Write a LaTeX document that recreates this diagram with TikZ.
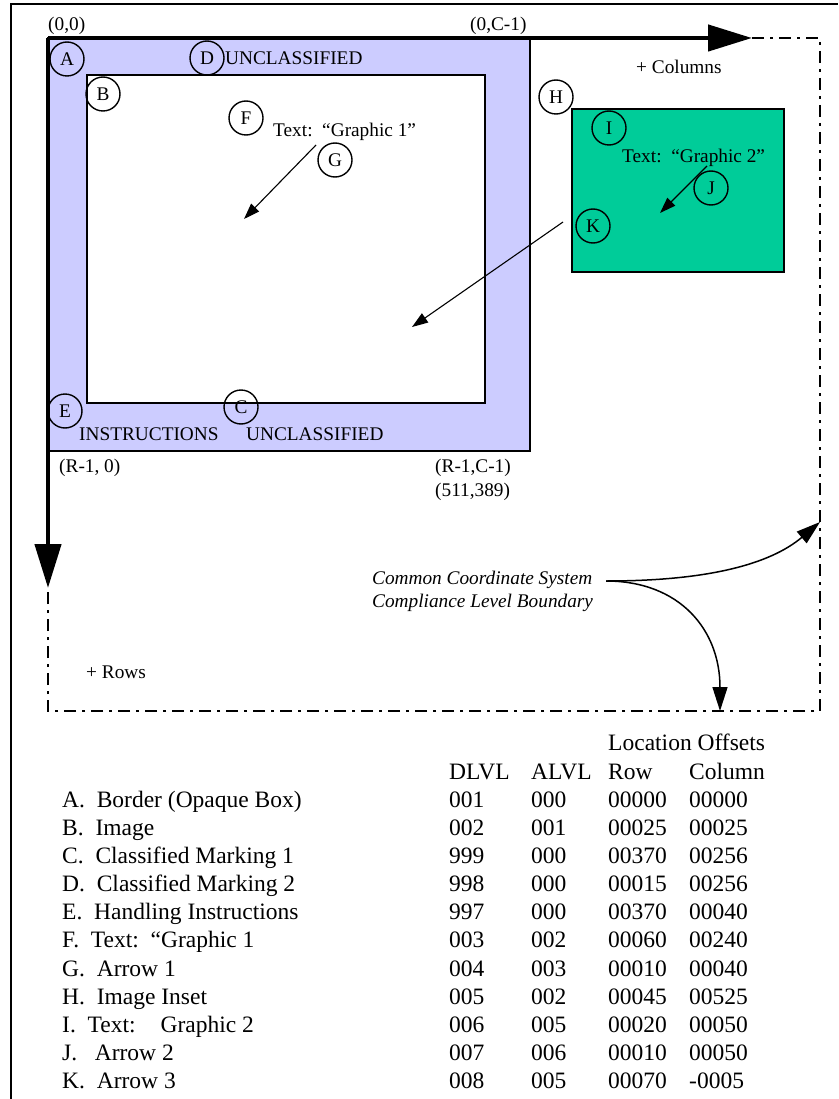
\documentclass[tikz,border=0pt]{standalone}
\usepackage{fontspec}
\setmainfont{Liberation Serif}
\usetikzlibrary{arrows.meta}
\definecolor{Lavender}{HTML}{CCCCFF}
\definecolor{Jade}{HTML}{00CC99}

\begin{document}
\begin{tikzpicture}[x=1pt,y=-1pt,
    small/.style={font=\fontsize{19.3}{23}\selectfont,inner sep=0pt,anchor=base west},
    big/.style={font=\fontsize{23.5}{27}\selectfont,inner sep=0pt,anchor=base west},
    tag/.style={draw,circle,line width=1.4pt,minimum size=34pt,inner sep=0pt,
      font=\fontsize{19.3}{23}\selectfont},
    pointer/.style={line width=1.1pt,-{Triangle[length=16pt,width=11pt]}},
    callout/.style={line width=1.5pt,-{Triangle[length=24pt,width=15pt]}},
    axis/.style={line width=4.5pt,-{Triangle[length=44pt,width=26pt]}},
    bound/.style={line width=2pt,dash pattern=on 12pt off 6pt on 3pt off 6pt}]
        \useasboundingbox (0,0) rectangle (838,1099);
        \draw[line width=2.5pt] (11,1099)--(11,4)--(838,4);

        \draw[fill=Lavender,line width=1.5pt] (48,38) rectangle (530,451);
        \draw[fill=white,line width=1.5pt] (87,75) rectangle (485,403);
        \draw[fill=Jade,line width=1.5pt] (572,109) rectangle (784,272);

        \coordinate (origin) at (48,38);
        \coordinate (colend) at (752,38);
        \coordinate (rowend) at (48,588);
        \draw[bound] (colend)--(820,38)--(820,711)--(48,711)--(rowend);
        \draw[axis] (origin)--(colend);
        \draw[axis] (origin)--(rowend);

        \foreach \n/\x/\y in {
          A/67/59,D/207/58,B/103/94,F/246/118,G/335/160,E/65/411,
          C/241/407,H/556/97,I/609/128,J/711/188,K/593/226}
          \node[tag] (tag\n) at (\x,\y) {\n};

        \node[small] (zero) at (48,31) {(0,0)};
        \node[small] (colmax) at (470,31) {(0,C-1)};
        \node[small] (topmark) at (225,65) {UNCLASSIFIED};
        \node[small] (textone) at (273,137) {Text:\ \ “Graphic 1”};
        \node[small] (cols) at (636,74) {+ Columns};
        \node[small] (texttwo) at (622,163) {Text:\ \ “Graphic 2”};
        \node[small] (instr) at (79,440) {INSTRUCTIONS};
        \node[small] (botmark) at (246,440) {UNCLASSIFIED};
        \node[small] (rowmax) at (59,472) {(R-1, 0)};
        \node[small] (corner) at (435,472) {(R-1,C-1)};
        \node[small] (size) at (435,496) {(511,389)};
        \node[small] (rows) at (86,678) {+ Rows};
        \node[small,font=\fontsize{19.3}{23}\selectfont\itshape] (ccs)
          at (372,584) {Common Coordinate System};
        \node[small,font=\fontsize{19.3}{23}\selectfont\itshape] (clb)
          at (372,607) {Compliance Level Boundary};

        \coordinate (gfrom) at (316,145);
        \coordinate (gto) at (244,219);
        \coordinate (jfrom) at (707,166);
        \coordinate (jto) at (660,213);
        \coordinate (kfrom) at (563,222);
        \coordinate (kto) at (412,327);
        \draw[pointer] (gfrom)--(gto);
        \draw[pointer] (jfrom)--(jto);
        \draw[pointer] (kfrom)--(kto);

        \coordinate (fork) at (606,581);
        \coordinate (rightedge) at (820,522);
        \coordinate (bottomedge) at (720,711);
        \draw[callout] (fork) .. controls (720,581) and (775,560) .. (rightedge);
        \draw[callout] (fork) .. controls (680,581) and (720,630) .. (bottomedge);

        \node[big] (offsets) at (608,750) {Location Offsets};
        \foreach \h/\x in {DLVL/449,ALVL/531,Row/608,Column/689}
          \node[big] (head\h) at (\x,779) {\h};
        \foreach \what/\dl/\al/\rw/\cl [count=\i] in {
          A.\ \ Border (Opaque Box)/001/000/00000/00000,
          B.\ \ Image/002/001/00025/00025,
          C.\ \ Classified Marking 1/999/000/00370/00256,
          D.\ \ Classified Marking 2/998/000/00015/00256,
          E.\ \ Handling Instructions/997/000/00370/00040,
          F.\ \ Text:\ \ “Graphic 1/003/002/00060/00240,
          G.\ \ Arrow 1/004/003/00010/00040,
          H.\ \ Image Inset/005/002/00045/00525,
          I.\ \ Text:\hspace{25pt}Graphic 2/006/005/00020/00050,
          J.\ \ \ Arrow 2/007/006/00010/00050,
          K.\ \ Arrow 3/008/005/00070/-0005}
          {
          \node[big] (item\i) at (62,{779+28.15*\i}) {\what};
          \node[big] (dlvl\i) at (449,{779+28.15*\i}) {\dl};
          \node[big] (alvl\i) at (531,{779+28.15*\i}) {\al};
          \node[big] (row\i) at (608,{779+28.15*\i}) {\rw};
          \node[big] (col\i) at (689,{779+28.15*\i}) {\cl};
          }
      \end{tikzpicture}
\end{document}
